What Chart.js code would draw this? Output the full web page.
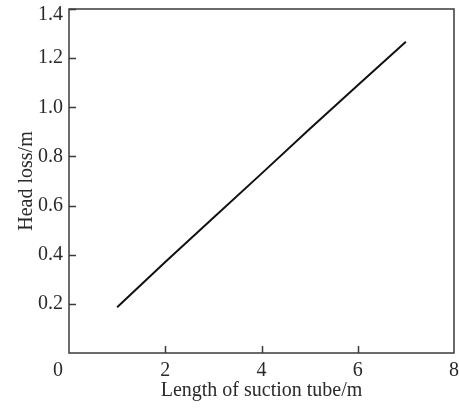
<!DOCTYPE html>
<html>
<head>
<meta charset="utf-8">
<script src="https://cdn.jsdelivr.net/npm/chart.js@4/dist/chart.umd.min.js"></script>
<style>
  html, body { margin: 0; padding: 0; background: #fff; }
  #wrap { width: 459px; height: 408px; }
</style>
</head>
<body>
<div id="wrap"><canvas id="chart" width="459" height="408"></canvas></div>
<script>
// tube length (m) and measured head loss (m)
const tubeLength = [1, 2, 3, 4, 5, 6, 7];
const headLoss = [0.186, 0.37, 0.55, 0.73, 0.912, 1.09, 1.267];

const xTicks = [0, 2, 4, 6, 8];
const yTicks = [0.2, 0.4, 0.6, 0.8, 1.0, 1.2, 1.4];

const AXIS = "#3a3a3a";
const TEXT = "#2a2a2a";
const FONT = "'Liberation Serif', 'Times New Roman', serif";
const Y_MAX = 1.4;

// box frame, inward tick marks, the corner "0" and the top y label
const framePlugin = {
  id: "frame",
  afterDraw(chart) {
    const { ctx, chartArea: a, scales } = chart;
    ctx.save();
    ctx.strokeStyle = AXIS;
    ctx.lineWidth = 1.5;
    ctx.strokeRect(a.left, a.top, a.right - a.left, a.bottom - a.top);

    ctx.beginPath();
    xTicks.forEach(v => {
      if (v === 0 || v === 8) return;
      const px = Math.round(scales.x.getPixelForValue(v)) + 0.5;
      ctx.moveTo(px, a.bottom);
      ctx.lineTo(px, a.bottom - 7);
    });
    yTicks.forEach(v => {
      const py = Math.round(scales.y.getPixelForValue(v)) + 0.5;
      ctx.moveTo(a.left, py);
      ctx.lineTo(a.left + 7, py);
    });
    ctx.stroke();

    ctx.fillStyle = TEXT;
    ctx.font = "20px " + FONT;
    ctx.textBaseline = "middle";
    ctx.textAlign = "center";
    ctx.fillText("0", scales.x.getPixelForValue(0) - 11, a.bottom + 18);
    // top label sits a little below its tick so it stays inside the canvas
    ctx.textAlign = "right";
    ctx.fillText(Y_MAX.toFixed(1), a.left - 6, scales.y.getPixelForValue(Y_MAX) + 6);
    ctx.restore();
  }
};

new Chart(document.getElementById("chart"), {
  type: "line",
  data: {
    datasets: [{
      data: tubeLength.map((x, i) => ({ x, y: headLoss[i] })),
      borderColor: "#111",
      borderWidth: 2,
      pointRadius: 0,
      tension: 0,
      fill: false
    }]
  },
  options: {
    responsive: false,
    animation: false,
    layout: { padding: { left: 0, right: 5, top: 9, bottom: 0 } },
    plugins: { legend: { display: false }, tooltip: { enabled: false } },
    scales: {
      x: {
        type: "linear",
        min: 0,
        max: 8,
        afterBuildTicks(scale) { scale.ticks = xTicks.map(value => ({ value })); },
        afterFit(scale) {
          scale.height = 55;
          scale.paddingLeft = 0;
          scale.paddingRight = 0;
        },
        grid: { display: false, drawTicks: false },
        border: { display: false },
        ticks: {
          padding: 8,
          color: TEXT,
          maxRotation: 0,
          font: { family: FONT, size: 20, lineHeight: 1 },
          callback: v => (v === 0 ? "" : String(v))
        },
        title: {
          display: true,
          text: "Length of suction tube/m",
          color: TEXT,
          font: { family: FONT, size: 20, lineHeight: 1.2 },
          padding: { top: 0, bottom: 5 }
        }
      },
      y: {
        min: 0,
        max: Y_MAX,
        afterBuildTicks(scale) { scale.ticks = yTicks.map(value => ({ value })); },
        afterFit(scale) {
          scale.width = 69;
          scale.paddingTop = 0;
          scale.paddingBottom = 0;
        },
        grid: { display: false, drawTicks: false },
        border: { display: false },
        ticks: {
          padding: 6,
          color: TEXT,
          font: { family: FONT, size: 20, lineHeight: 1 },
          callback: v => (v >= Y_MAX ? "" : v.toFixed(1))
        },
        title: {
          display: true,
          text: "Head loss/m",
          color: TEXT,
          font: { family: FONT, size: 20, lineHeight: 1.2 },
          padding: { top: 15, bottom: 0 }
        }
      }
    }
  },
  plugins: [framePlugin]
});
</script>
</body>
</html>
